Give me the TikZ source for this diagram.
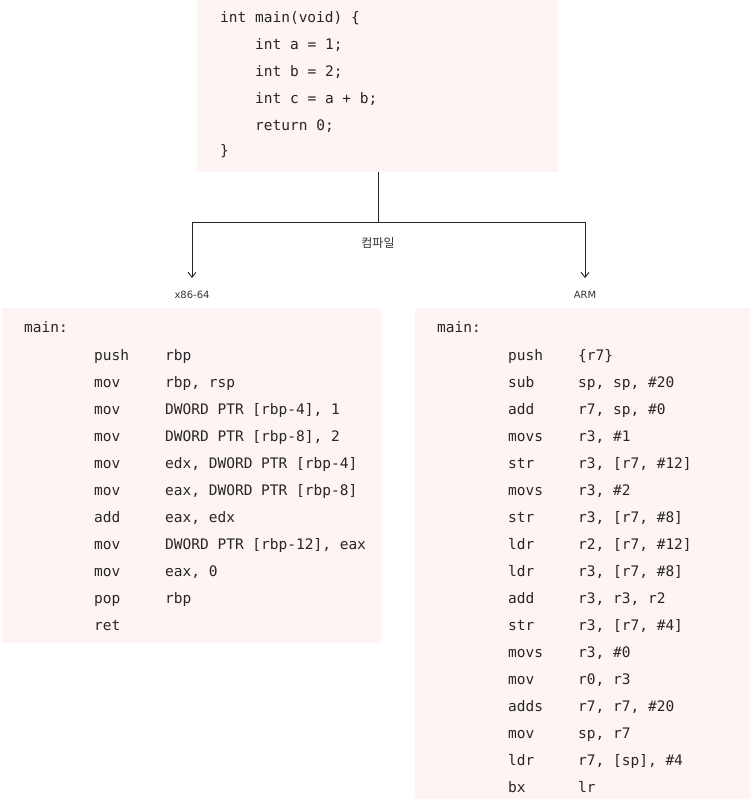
\documentclass[tikz,border=0pt]{standalone}
\usetikzlibrary{arrows.meta}
\usepackage{fontspec}
\setmainfont{DejaVu Sans}
\setmonofont{DejaVu Sans Mono}
\newfontfamily\kor{Noto Sans CJK KR}
\begin{document}
\begin{tikzpicture}[x=1pt,y=-1pt,
  box/.style={fill=pink!18!white,draw=none},
  code/.style={anchor=base west,inner sep=0,yshift=-5pt,font=\ttfamily\fontsize{14.5}{16}\selectfont,text=black!85},
  lab/.style={inner sep=1pt,font=\fontsize{10}{12}\selectfont,text=black!80},
  conn/.style={draw=black!85,line width=0.9pt},
  arr/.style={conn,-{Straight Barb[length=5pt,width=8pt]}}]
\useasboundingbox (0,0) rectangle (750,799);
\fill[box] (197,0) rectangle (558,172);
\fill[box] (2,308) rectangle (381,643);
\fill[box] (415,308) rectangle (750,799);
% top code
\node[code] (t1) at (220,18) {int main(void) \{};
\node[code] (t2) at (255,45) {int a = 1;};
\node[code] (t3) at (255,72) {int b = 2;};
\node[code] (t4) at (255,99) {int c = a + b;};
\node[code] (t5) at (255,126) {return 0;};
\node[code] (t6) at (220,151) {\}};
% connectors
\coordinate (src) at (378,172);
\coordinate (mid) at (378,222);
\coordinate (lc) at (192,222);
\coordinate (rc) at (585,222);
\coordinate (la) at (192,278);
\coordinate (ra) at (585,278);
\draw[conn] (src) -- (mid);
\draw[conn] (lc) -- (rc);
\draw[arr] (lc) -- (la);
\draw[arr] (rc) -- (ra);
\node[lab,font=\kor\fontsize{12}{14}\selectfont] (cl) at (378,243) {컴파일};
\node[lab] (xl) at (192,295) {x86-64};
\node[lab] (al) at (585,295) {ARM};
% left
\node[code] (lm) at (24,327) {main:};
\foreach \i/\a/\b in {0/push/rbp,1/mov/{rbp, rsp},2/mov/{DWORD PTR [rbp-4], 1},3/mov/{DWORD PTR [rbp-8], 2},4/mov/{edx, DWORD PTR [rbp-4]},5/mov/{eax, DWORD PTR [rbp-8]},6/add/{eax, edx},7/mov/{DWORD PTR [rbp-12], eax},8/mov/{eax, 0},9/pop/rbp,10/ret/{}}{
  \node[code] (li\i) at (94,355+27*\i) {\a};
  \node[code] (lo\i) at (165,355+27*\i) {\b};
}
% right
\node[code] (rm) at (437,327) {main:};
\foreach \i/\a/\b in {0/push/\{r7\},1/sub/{sp, sp, \#20},2/add/{r7, sp, \#0},3/movs/{r3, \#1},4/str/{r3, [r7, \#12]},5/movs/{r3, \#2},6/str/{r3, [r7, \#8]},7/ldr/{r2, [r7, \#12]},8/ldr/{r3, [r7, \#8]},9/add/{r3, r3, r2},10/str/{r3, [r7, \#4]},11/movs/{r3, \#0},12/mov/{r0, r3},13/adds/{r7, r7, \#20},14/mov/{sp, r7},15/ldr/{r7, [sp], \#4},16/bx/lr}{
  \node[code] (ri\i) at (508,355+27*\i) {\a};
  \node[code] (ro\i) at (578,355+27*\i) {\b};
}
\end{tikzpicture}
\end{document}
